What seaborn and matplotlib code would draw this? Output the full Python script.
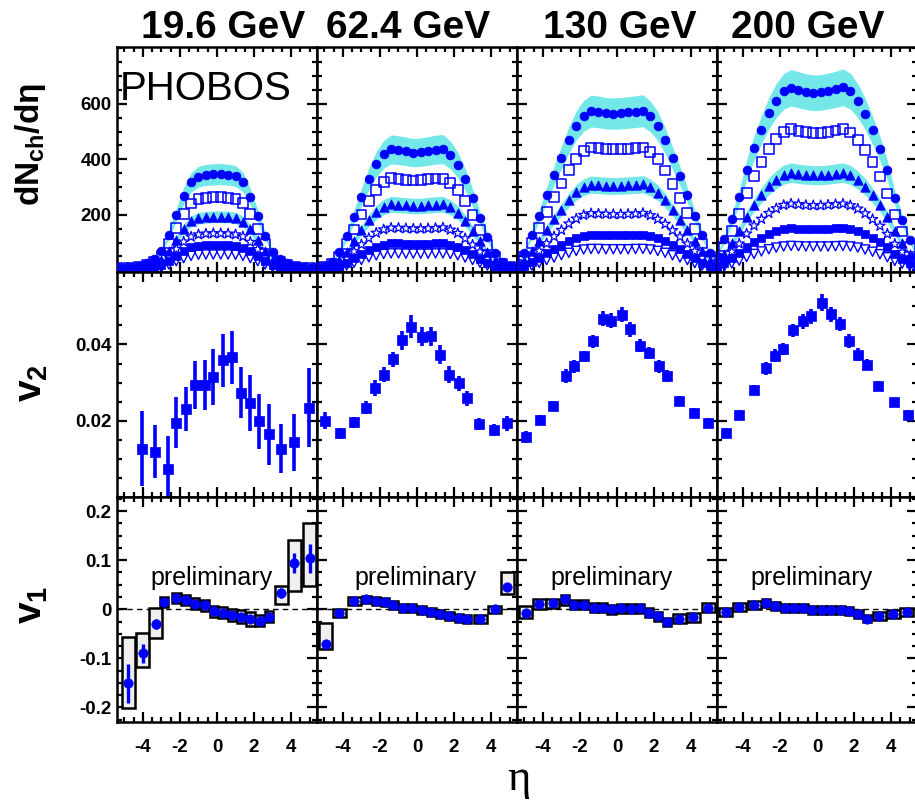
import matplotlib
matplotlib.use("Agg")
import matplotlib.pyplot as plt
import numpy as np
import seaborn as sns
from matplotlib.ticker import MultipleLocator

sns.set_theme(style="ticks")
plt.rcParams['font.family'] = ['Liberation Sans', 'DejaVu Sans']
plt.rcParams['mathtext.fontset'] = 'custom'
plt.rcParams['mathtext.rm'] = 'Liberation Sans'
plt.rcParams['mathtext.bf'] = 'Liberation Sans:bold'
plt.rcParams['mathtext.it'] = 'Liberation Sans:italic'
plt.rcParams['axes.unicode_minus'] = False
for key in ['text.color', 'axes.labelcolor', 'xtick.color', 'ytick.color',
            'xtick.labelcolor', 'ytick.labelcolor', 'axes.edgecolor']:
    plt.rcParams[key] = 'black'

# ---------------- data ----------------
energies = ['19.6 GeV', '62.4 GeV', '130 GeV', '200 GeV']

eta_dn = [-5.4, -5.0, -4.6, -4.2, -3.8, -3.4, -3.0, -2.6, -2.2, -1.8, -1.4, -1.0, -0.6, -0.2,
          0.2, 0.6, 1.0, 1.4, 1.8, 2.2, 2.6, 3.0, 3.4, 3.8, 4.2, 4.6, 5.0, 5.4]

dn_196 = [
    [7, 9, 12, 17, 28, 41, 69, 128, 200, 269, 317, 338, 344, 346, 347, 345, 340, 318, 266, 196, 124, 66, 40, 27, 17, 12, 9, 7],
    [5, 7, 9, 13, 21, 31, 52, 97, 152, 204, 241, 257, 261, 263, 263, 262, 258, 242, 202, 150, 95, 51, 30, 20, 13, 9, 7, 5],
    [4, 5, 7, 10, 15, 23, 38, 71, 111, 150, 177, 188, 191, 193, 193, 192, 189, 176, 148, 110, 70, 37, 23, 15, 10, 7, 5, 4],
    [3, 3, 5, 7, 11, 16, 26, 49, 77, 103, 121, 129, 132, 133, 133, 132, 129, 122, 102, 76, 48, 26, 16, 11, 7, 5, 3, 3],
    [2, 2, 3, 5, 7, 11, 18, 33, 52, 70, 83, 88, 90, 90, 90, 90, 88, 82, 69, 52, 33, 18, 11, 7, 5, 3, 2, 2],
    [1, 1, 2, 3, 5, 7, 11, 21, 33, 44, 52, 56, 57, 57, 57, 57, 56, 52, 44, 33, 21, 11, 7, 5, 3, 2, 1, 1],
]
dn_624 = [
    [9, 15, 31, 66, 123, 194, 264, 330, 383, 418, 436, 433, 429, 424, 426, 430, 435, 437, 416, 380, 328, 262, 190, 120, 64, 30, 15, 9],
    [7, 12, 23, 50, 94, 147, 201, 251, 291, 318, 332, 330, 327, 324, 325, 328, 331, 330, 316, 289, 249, 199, 145, 92, 48, 23, 12, 7],
    [5, 8, 17, 36, 67, 106, 144, 180, 209, 228, 238, 236, 234, 232, 232, 235, 237, 238, 227, 208, 179, 143, 104, 66, 35, 16, 8, 5],
    [3, 5, 11, 23, 43, 68, 93, 116, 135, 147, 153, 153, 151, 150, 150, 151, 152, 154, 146, 134, 115, 92, 67, 42, 22, 11, 5, 3],
    [2, 3, 7, 15, 27, 43, 59, 74, 85, 93, 97, 97, 96, 95, 95, 96, 97, 97, 92, 85, 73, 58, 42, 27, 14, 7, 3, 2],
    [1, 2, 4, 9, 17, 27, 37, 47, 54, 59, 61, 61, 60, 60, 60, 60, 61, 61, 59, 54, 46, 37, 27, 17, 9, 4, 2, 1],
]
dn_130 = [
    [20, 64, 128, 197, 273, 342, 406, 470, 522, 557, 574, 571, 566, 565, 566, 569, 572, 575, 555, 520, 468, 404, 340, 271, 195, 126, 62, 20],
    [18, 49, 98, 152, 210, 264, 313, 362, 402, 429, 443, 440, 437, 436, 436, 438, 441, 443, 428, 401, 360, 312, 262, 208, 150, 97, 48, 18],
    [12, 34, 69, 106, 147, 184, 218, 253, 281, 300, 309, 307, 305, 304, 305, 306, 308, 310, 299, 280, 252, 217, 183, 146, 105, 68, 33, 12],
    [8, 23, 46, 70, 97, 122, 145, 168, 186, 199, 205, 204, 203, 202, 202, 203, 204, 206, 198, 185, 167, 144, 121, 96, 69, 45, 22, 8],
    [5, 14, 29, 44, 61, 77, 91, 105, 117, 125, 129, 128, 127, 127, 127, 127, 128, 129, 124, 116, 104, 90, 76, 60, 43, 28, 14, 5],
    [3, 9, 17, 27, 37, 46, 55, 63, 70, 75, 77, 77, 76, 76, 76, 76, 77, 77, 75, 70, 63, 54, 46, 37, 26, 17, 9, 3],
]
dn_200 = [
    [53, 112, 184, 263, 362, 441, 507, 566, 612, 645, 658, 651, 644, 640, 641, 646, 652, 660, 646, 612, 564, 505, 439, 360, 260, 182, 110, 52],
    [41, 86, 142, 203, 279, 340, 391, 437, 472, 498, 508, 503, 498, 495, 496, 499, 504, 508, 497, 471, 435, 390, 338, 277, 201, 140, 85, 40],
    [28, 60, 99, 141, 194, 236, 271, 303, 327, 345, 352, 348, 345, 343, 343, 345, 349, 352, 344, 326, 302, 270, 235, 193, 140, 98, 59, 28],
    [19, 41, 67, 96, 132, 161, 185, 206, 223, 235, 240, 238, 235, 234, 234, 236, 238, 240, 234, 222, 205, 184, 160, 131, 95, 66, 40, 19],
    [12, 26, 43, 61, 84, 102, 117, 131, 141, 149, 152, 150, 149, 148, 148, 149, 151, 152, 148, 141, 130, 116, 101, 83, 60, 42, 25, 12],
    [7, 15, 25, 35, 48, 59, 68, 76, 82, 86, 88, 87, 86, 86, 86, 86, 87, 88, 86, 82, 75, 67, 58, 47, 34, 24, 15, 7],
]
dn_sys_frac = [0.11, 0.12, 0.10, 0.10]

# v2
v2_eta = [
    [-4.05, -3.35, -2.65, -2.2, -1.7, -1.2, -0.66, -0.23, 0.35, 0.8, 1.3, 1.8, 2.25, 2.8, 3.45, 4.15, 4.99],
    [-4.98, -4.15, -3.4, -2.73, -2.27, -1.77, -1.27, -0.79, -0.31, 0.25, 0.73, 1.23, 1.73, 2.25, 2.69, 3.36, 4.17, 4.88],
    [-4.94, -4.15, -3.44, -2.77, -2.31, -1.79, -1.27, -0.77, -0.31, 0.27, 0.69, 1.23, 1.73, 2.25, 2.69, 3.36, 4.15, 4.9],
    [-4.94, -4.21, -3.4, -2.73, -2.29, -1.81, -1.27, -0.77, -0.33, 0.27, 0.73, 1.23, 1.73, 2.23, 2.69, 3.31, 4.15, 4.9],
]
v2_val = [
    [0.0127, 0.0119, 0.0073, 0.0195, 0.0231, 0.0294, 0.0294, 0.0314, 0.0358, 0.0366, 0.0273, 0.0247, 0.0198, 0.0164, 0.0127, 0.0143, 0.0234],
    [0.0200, 0.0167, 0.0196, 0.0234, 0.0286, 0.0321, 0.0361, 0.0411, 0.0446, 0.0420, 0.0422, 0.0373, 0.0321, 0.0298, 0.0259, 0.0191, 0.0176, 0.0193],
    [0.0157, 0.0203, 0.0239, 0.0317, 0.0343, 0.0369, 0.0409, 0.0468, 0.0462, 0.0478, 0.0440, 0.0397, 0.0378, 0.0343, 0.0317, 0.0252, 0.0221, 0.0195],
    [0.0167, 0.0216, 0.0280, 0.0338, 0.0370, 0.0388, 0.0437, 0.0461, 0.0474, 0.0510, 0.0479, 0.0454, 0.0410, 0.0373, 0.0347, 0.0291, 0.0248, 0.0215],
]
v2_err = [
    [0.0099, 0.0070, 0.0088, 0.0067, 0.0058, 0.0062, 0.0065, 0.0073, 0.0070, 0.0070, 0.0067, 0.0073, 0.0073, 0.0081, 0.0065, 0.0075, 0.0104],
    [0.0022, 0.0015, 0.0015, 0.0017, 0.0020, 0.0020, 0.0020, 0.0025, 0.0030, 0.0025, 0.0025, 0.0025, 0.0022, 0.0020, 0.0020, 0.0015, 0.0015, 0.0020],
    [0.0015, 0.0013, 0.0013, 0.0018, 0.0017, 0.0015, 0.0017, 0.0020, 0.0020, 0.0020, 0.0020, 0.0017, 0.0015, 0.0017, 0.0015, 0.0012, 0.0012, 0.0012],
    [0.0013, 0.0013, 0.0013, 0.0017, 0.0017, 0.0015, 0.0017, 0.0020, 0.0020, 0.0022, 0.0020, 0.0018, 0.0018, 0.0017, 0.0015, 0.0012, 0.0012, 0.0012],
]

# v1
v1_eta = [
    [-4.8, -4.0, -3.3, -2.86, -2.2, -1.7, -1.2, -0.66, -0.15, 0.3, 0.8, 1.3, 1.8, 2.3, 2.8, 3.46, 4.16, 5.0],
    [-4.92, -4.19, -3.4, -2.73, -2.21, -1.73, -1.27, -0.75, -0.27, 0.25, 0.77, 1.23, 1.75, 2.27, 2.69, 3.42, 4.19, 4.88],
    [-4.94, -4.19, -3.47, -2.8, -2.31, -1.79, -1.23, -0.77, -0.29, 0.23, 0.75, 1.23, 1.73, 2.21, 2.71, 3.37, 4.12, 4.92],
    [-4.94, -4.21, -3.38, -2.76, -2.25, -1.73, -1.25, -0.73, -0.25, 0.27, 0.73, 1.27, 1.73, 2.23, 2.69, 3.35, 4.12, 4.85],
]
v1_val = [
    [-0.151, -0.090, -0.030, 0.015, 0.023, 0.019, 0.011, 0.008, -0.004, -0.007, -0.012, -0.015, -0.020, -0.023, -0.015, 0.033, 0.094, 0.104],
    [-0.070, -0.007, 0.016, 0.020, 0.016, 0.014, 0.008, 0.003, 0.003, -0.001, -0.005, -0.009, -0.014, -0.018, -0.020, -0.020, 0.000, 0.046],
    [-0.007, 0.010, 0.012, 0.020, 0.009, 0.009, 0.003, 0.003, 0.000, 0.002, 0.001, 0.002, -0.007, -0.014, -0.026, -0.019, -0.016, 0.003],
    [-0.005, 0.005, 0.009, 0.012, 0.006, 0.002, 0.002, 0.002, -0.001, -0.001, -0.001, -0.001, -0.003, -0.010, -0.019, -0.014, -0.010, -0.005],
]
v1_err = [
    [0.040, 0.020, 0.010, 0.004, 0.004, 0.004, 0.004, 0.004, 0.004, 0.004, 0.004, 0.004, 0.004, 0.004, 0.004, 0.010, 0.020, 0.030],
    [0.008, 0.003, 0.003, 0.003, 0.003, 0.003, 0.003, 0.003, 0.003, 0.003, 0.003, 0.003, 0.003, 0.003, 0.003, 0.003, 0.003, 0.006],
    [0.004, 0.003, 0.003, 0.003, 0.003, 0.003, 0.003, 0.003, 0.003, 0.003, 0.003, 0.003, 0.003, 0.003, 0.003, 0.003, 0.003, 0.003],
    [0.003, 0.003, 0.003, 0.003, 0.003, 0.003, 0.003, 0.003, 0.003, 0.003, 0.003, 0.003, 0.003, 0.003, 0.003, 0.003, 0.003, 0.003],
]
v1_sys_lo = [
    [-0.202, -0.118, -0.059, 0.005, 0.012, 0.008, 0.000, -0.003, -0.015, -0.018, -0.024, -0.028, -0.034, -0.035, -0.026, 0.010, 0.037, 0.047],
    [-0.082, -0.015, 0.008, 0.012, 0.008, 0.006, 0.000, -0.005, -0.005, -0.009, -0.013, -0.017, -0.022, -0.026, -0.028, -0.028, -0.007, 0.031],
    [-0.017, 0.000, 0.003, 0.008, 0.000, 0.000, -0.006, -0.006, -0.009, -0.007, -0.008, -0.007, -0.016, -0.023, -0.035, -0.028, -0.025, -0.006],
    [-0.013, -0.003, 0.001, 0.004, -0.002, -0.006, -0.006, -0.006, -0.009, -0.009, -0.009, -0.009, -0.011, -0.018, -0.027, -0.022, -0.018, -0.013],
]
v1_sys_hi = [
    [-0.057, -0.049, 0.002, 0.025, 0.034, 0.030, 0.022, 0.019, 0.007, 0.004, 0.000, -0.002, -0.006, -0.011, -0.004, 0.047, 0.141, 0.175],
    [-0.029, 0.001, 0.024, 0.028, 0.024, 0.022, 0.016, 0.011, 0.011, 0.007, 0.003, -0.001, -0.006, -0.010, -0.012, -0.012, 0.007, 0.075],
    [0.007, 0.020, 0.021, 0.030, 0.018, 0.018, 0.012, 0.012, 0.009, 0.011, 0.010, 0.011, 0.002, -0.005, -0.017, -0.010, -0.007, 0.012],
    [0.003, 0.013, 0.017, 0.020, 0.014, 0.010, 0.010, 0.010, 0.007, 0.007, 0.007, 0.007, 0.005, -0.002, -0.011, -0.006, -0.002, 0.003],
]

eta_ticks = [-4, -2, 0, 2, 4]
eta_tick_labels = ['-4', '-2', '0', '2', '4']
dn_ticks = [200, 400, 600]
v2_ticks = [0.02, 0.04]
v2_tick_labels = ['0.02', '0.04']
v1_ticks = [-0.2, -0.1, 0.0, 0.1, 0.2]
v1_tick_labels = ['-0.2', '-0.1', '0', '0.1', '0.2']

# ---------------- figure ----------------
W, H = 915, 806
fig = plt.figure(figsize=(W / 100, H / 100), dpi=100)
gs = fig.add_gridspec(3, 4, left=117 / W, right=917 / W, top=1 - 47 / H, bottom=1 - 722 / H,
                      hspace=0, wspace=0)
axes = [[fig.add_subplot(gs[r, c]) for c in range(4)] for r in range(3)]

BLUE = '#0000ff'
CYAN = '#74e8e8'
dn_all = [dn_196, dn_624, dn_130, dn_200]
styles = [
    dict(marker='o', s=40, color=BLUE, edgecolor=BLUE, linewidth=0.5),
    dict(marker='s', s=50, color=BLUE, facecolors='none', edgecolor=BLUE, linewidth=1.1),
    dict(marker='^', s=46, color=BLUE, edgecolor=BLUE, linewidth=0.5),
    dict(marker='*', s=60, color=BLUE, facecolors='none', edgecolor=BLUE, linewidth=0.9),
    dict(marker='s', s=34, color=BLUE, edgecolor=BLUE, linewidth=0.5),
    dict(marker='v', s=44, color=BLUE, facecolors='none', edgecolor=BLUE, linewidth=1.0),
]

tick_font = dict(fontsize=13.5, fontweight='bold', color='black')

for c in range(4):
    # ----- top row: dN/deta -----
    ax = axes[0][c]
    eta = np.array(eta_dn)
    for k in (0, 2):
        y = np.array(dn_all[c][k], dtype=float)
        f = dn_sys_frac[c]
        ax.fill_between(eta, y * (1 - f), y * (1 + f), color=CYAN, lw=0, zorder=1)
    for k in range(6):
        sns.scatterplot(x=eta_dn, y=dn_all[c][k], ax=ax, legend=False, zorder=3, **styles[k])
    ax.set_ylim(-6, 805)
    ax.set_yticks(dn_ticks)
    ax.yaxis.set_minor_locator(MultipleLocator(50))

    # ----- middle row: v2 -----
    ax = axes[1][c]
    ax.errorbar(v2_eta[c], v2_val[c], yerr=v2_err[c], fmt='none', ecolor=BLUE,
                elinewidth=2.6, capsize=0, zorder=2)
    ax.errorbar(v2_eta[c], v2_val[c], xerr=0.13, fmt='none', ecolor=BLUE,
                elinewidth=1.2, capsize=0, zorder=2)
    sns.scatterplot(x=v2_eta[c], y=v2_val[c], ax=ax, marker='s', s=46, color=BLUE,
                    edgecolor=BLUE, linewidth=0.5, legend=False, zorder=3)
    ax.set_ylim(0.0, 0.059)
    ax.set_yticks(v2_ticks)
    ax.yaxis.set_minor_locator(MultipleLocator(0.005))

    # ----- bottom row: v1 -----
    ax = axes[2][c]
    ax.axhline(0, color='black', lw=1.0, ls=(0, (4, 3)), zorder=1)
    lo = np.array(v1_sys_lo[c])
    hi = np.array(v1_sys_hi[c])
    xe = np.array(v1_eta[c])
    widths = np.where(np.abs(xe) > 3.2, 0.7, 0.46)
    ax.bar(xe, hi - lo, bottom=lo, width=widths, facecolor='#efefef', edgecolor='black',
           linewidth=1.8, zorder=2)
    ax.errorbar(v1_eta[c], v1_val[c], yerr=v1_err[c], fmt='none', ecolor=BLUE,
                elinewidth=2.4, capsize=0, zorder=3)
    sns.scatterplot(x=v1_eta[c], y=v1_val[c], ax=ax, marker='o', s=46, color=BLUE,
                    edgecolor=BLUE, linewidth=0.5, legend=False, zorder=4)
    ax.set_ylim(-0.23, 0.229)
    ax.set_yticks(v1_ticks)
    ax.yaxis.set_minor_locator(MultipleLocator(0.025))
    ax.text(-0.3 if c != 1 else -0.1, 0.049, 'preliminary', ha='center', va='baseline',
            fontsize=18, color='black', zorder=5)

for r in range(3):
    for c in range(4):
        ax = axes[r][c]
        ax.set_xlim(-5.4, 5.4)
        ax.set_xticks(eta_ticks)
        ax.xaxis.set_minor_locator(MultipleLocator(0.5))
        ax.set_xlabel('')
        ax.set_ylabel('')
        ax.tick_params(which='both', direction='in', top=True, right=True, width=1.6,
                       color='black', labelcolor='black',
                       labelleft=(c == 0), labelbottom=(r == 2))
        ax.tick_params(which='major', length=7)
        ax.tick_params(which='minor', length=3.5)
        ax.tick_params(axis='x', pad=12)
        ax.tick_params(axis='y', pad=4)
        for sp in ax.spines.values():
            sp.set_linewidth(1.8)
            sp.set_color('black')
        ax.set_facecolor('white')
        if r == 2:
            ax.set_xticklabels(eta_tick_labels, **tick_font)
        if c == 0:
            if r == 0:
                ax.set_yticklabels([str(t) for t in dn_ticks], **tick_font)
            elif r == 1:
                ax.set_yticklabels(v2_tick_labels, **tick_font)
            else:
                ax.set_yticklabels(v1_tick_labels, **tick_font)

# titles
for c, xpx in enumerate([223, 408, 620, 808]):
    fig.text(xpx / W, 1 - 38 / H, energies[c], ha='center', va='baseline',
             fontsize=28, fontweight='bold', color='black')

axes[0][0].text(0.012, 0.765, 'PHOBOS', transform=axes[0][0].transAxes, ha='left',
                va='baseline', fontsize=29, color='black', zorder=6)

fig.text(30 / W, 1 - 144 / H, r'$\mathbf{dN_{ch}/d\eta}$', rotation=90, ha='center',
         va='center', fontsize=24, color='black')
fig.text(32 / W, 1 - 383 / H, r'$\mathbf{v_2}$', rotation=90, ha='center', va='center',
         fontsize=28, color='black')
fig.text(32 / W, 1 - 605 / H, r'$\mathbf{v_1}$', rotation=90, ha='center', va='center',
         fontsize=28, color='black')
fig.text(519 / W, 1 - 790 / H, 'η', ha='center', va='baseline', fontsize=32,
         color='black', family=['Liberation Serif', 'DejaVu Serif'])

fig.savefig('out.png', dpi=100, facecolor='white')
